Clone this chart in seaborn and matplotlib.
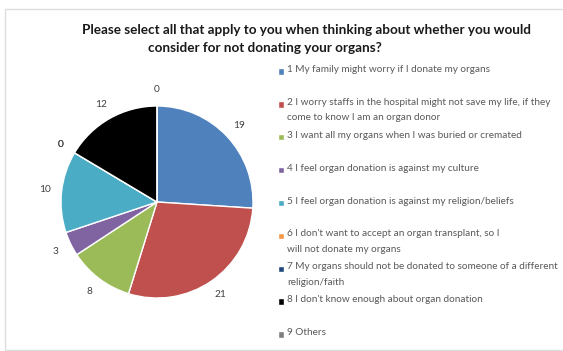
import matplotlib
matplotlib.use("Agg")
import matplotlib.pyplot as plt
from matplotlib.patches import Rectangle
from matplotlib.legend_handler import HandlerPatch
import seaborn as sns

# Survey responses: reasons for not donating organs
categories = [
    "1 My family might worry if I donate my organs",
    "2 I worry staffs in the hospital might not save my life, if they\ncome to know I am an organ donor",
    "3 I want all my organs when I was buried or cremated",
    "4 I feel organ donation is against my culture",
    "5 I feel organ donation is against my religion/beliefs",
    "6 I don't want to accept an organ transplant, so I\nwill not donate my organs",
    "7 My organs should not be donated to someone of a different\nreligion/faith",
    "8 I don't know enough about organ donation",
    "9 Others",
]
counts = [19, 21, 8, 3, 10, 0, 0, 12, 0]
slice_colors = ["#4F81BD", "#C0504D", "#9BBB59", "#8064A2", "#4BACC6",
                "#F79646", "#1F497D", "#000000", "#7F7F7F"]
title_line1 = "Please select all that apply to you when thinking about whether you would"
title_line2 = "consider for not donating your organs?"

sns.set_theme(style="white")
plt.rcParams["font.family"] = ["Lato", "DejaVu Sans"]

W, H, DPI = 563, 351, 100
fig = plt.figure(figsize=(W / DPI, H / DPI), dpi=DPI)
fig.patch.set_facecolor("white")

def px(x, y):
    """Pixel position (from top-left) to figure fraction."""
    return x / W, 1 - y / H

# light chart-area frame
fig.patches.append(Rectangle((5 / W, 1 - 350 / H), (W + 10) / W, (350 - 9) / H,
                             transform=fig.transFigure, fill=False,
                             edgecolor="#DDDDDD", linewidth=1.0))

# title, two lines
fig.text(*px(307, 30), title_line1, ha="center", va="center",
         fontsize=9.75, fontweight="bold", color="#1a1a1a")
fig.text(*px(148, 48), title_line2, ha="left", va="center",
         fontsize=9.75, fontweight="bold", color="#1a1a1a")

# pie axes: square box centred on the pie
cx, cy, half = 157, 202, 120
ax = fig.add_axes([(cx - half) / W, 1 - (cy + half) / H, 2 * half / W, 2 * half / H])
wedges, texts = ax.pie(
    counts,
    labels=[str(v) for v in counts],
    colors=slice_colors,
    startangle=90,
    counterclock=False,
    labeldistance=1.17,
    wedgeprops=dict(edgecolor="white", linewidth=1.0),
    textprops=dict(fontsize=7.3, color="#404040"),
)
for t in texts:
    t.set_ha("center")
    t.set_va("center")
ax.set_xlim(-1.25, 1.25)
ax.set_ylim(-1.25, 1.25)
ax.set_aspect("equal")
ax.axis("off")

# legend: every entry occupies a two-line slot, marker beside the first line
LEG_FS = 7.2
LINE_SP = 1.9


def square_marker(legend, orig_handle, xdescent, ydescent, width, height, fontsize):
    lift = 0.5 * LINE_SP * 1.2 * fontsize * 0.5
    return Rectangle((-xdescent, -ydescent + lift), width, height)


handler = HandlerPatch(patch_func=square_marker)
legend_labels = [c if "\n" in c else c + "\n " for c in categories]
leg = fig.legend(
    wedges, legend_labels,
    loc="upper left",
    bbox_to_anchor=px(278, 65),
    frameon=False,
    fontsize=LEG_FS,
    labelcolor="#595959",
    handlelength=0.62,
    handleheight=0.62,
    handletextpad=0.3,
    labelspacing=0.86,
    borderpad=0,
    borderaxespad=0,
    handler_map={w: handler for w in wedges},
)
for t in leg.get_texts():
    t.set_linespacing(LINE_SP)

fig.savefig("out.png", dpi=DPI, facecolor="white")
